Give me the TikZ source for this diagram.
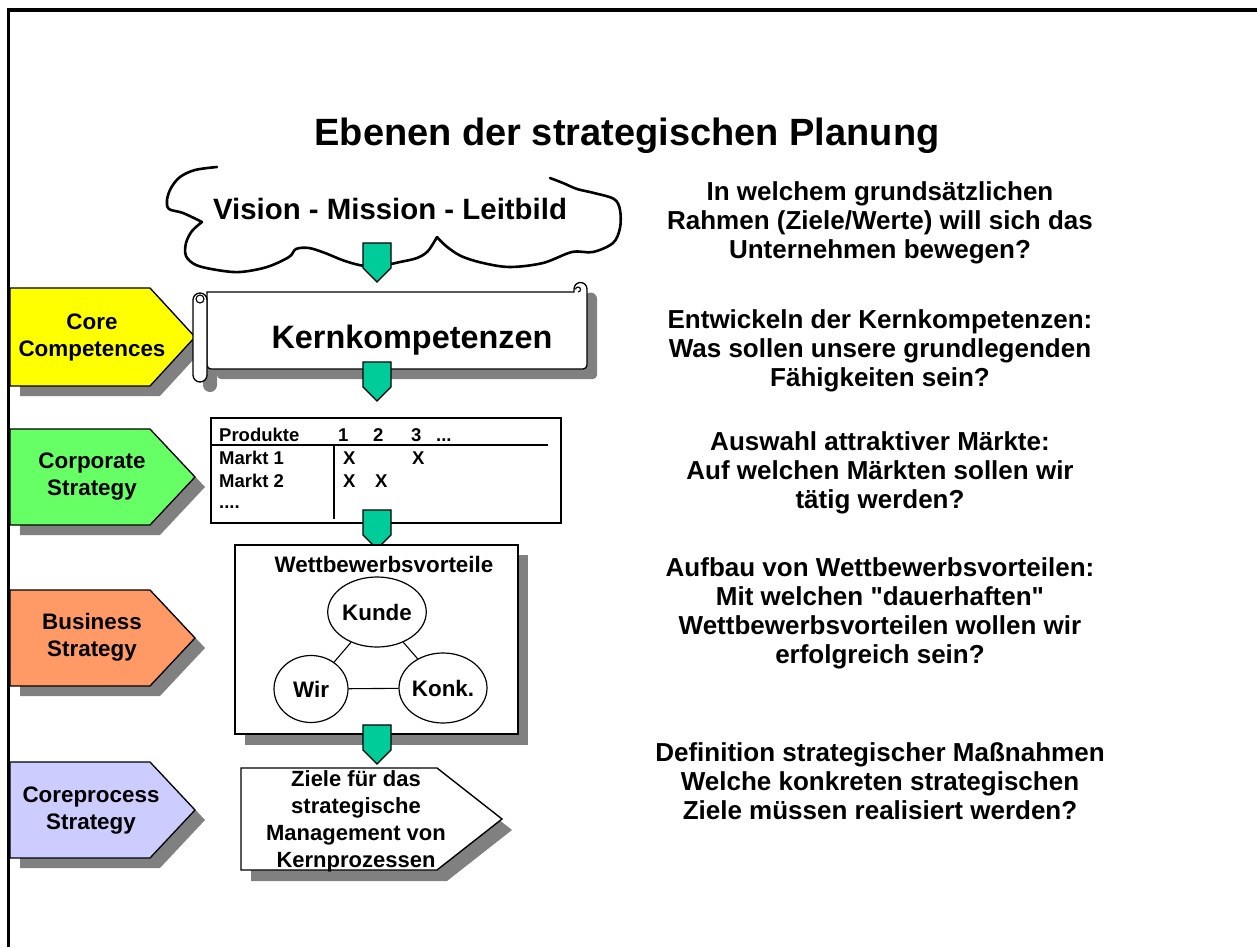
\documentclass[tikz,border=0pt]{standalone}
\usepackage{fontspec}
\setmainfont{Liberation Sans}
\usetikzlibrary{shapes.geometric}
\definecolor{cyel}{RGB}{255,255,0}
\definecolor{cgrn}{RGB}{102,255,102}
\definecolor{corg}{RGB}{255,153,102}
\definecolor{clav}{RGB}{204,204,255}
\definecolor{arrowteal}{RGB}{0,204,153}
\definecolor{shadowgray}{RGB}{128,128,128}

\tikzset{
  chevtext/.style={align=center, inner sep=0pt, font=\fontsize{22.4}{27}\selectfont\bfseries},
  sidetext/.style={align=center, inner sep=0pt, font=\fontsize{26}{29}\selectfont\bfseries},
  tabtext/.style={anchor=base west, inner sep=0pt, font=\fontsize{18.5}{23}\selectfont\bfseries},
  party/.style={ellipse, draw, line width=1.2pt, fill=white, inner sep=0pt,
     minimum width=74pt, minimum height=70pt, font=\fontsize{22.4}{27}\selectfont\bfseries},
  outline/.style={draw=black, line width=1.3pt},
  greenarrow/.pic={
    \filldraw[fill=arrowteal, draw=black, line width=1.2pt]
      (-14,0) -- (14,0) -- (14,25) -- (0,39) -- (-14,25) -- cycle;
  }
}

\begin{document}
\begin{tikzpicture}[x=1pt, y=-1pt, line join=miter]
\useasboundingbox (0,0) rectangle (1257,947);
\fill[white] (0,0) rectangle (1257,947);

% page frame (top and left edge only)
\draw[line width=3.5pt] (8.5,947) -- (8.5,10.2) -- (1257,10.2);

% heading
\node[anchor=base, inner sep=0pt, font=\fontsize{38}{44}\selectfont\bfseries] (title) at (627,145)
  {Ebenen der strategischen Planung};

% level chevrons on the left, each with its offset shadow
\foreach \yt/\ym/\yb/\col in {288/337/386/cyel, 429/477/525/cgrn, 590/638/686/corg, 762/810/858/clav} {
  \fill[shadowgray] (20,\yt+10) -- (160,\yt+10) -- (205,\ym+10) -- (160,\yb+10) -- (20,\yb+10) -- cycle;
  \filldraw[fill=\col, outline] (10,\yt) -- (150,\yt) -- (195,\ym) -- (150,\yb) -- (10,\yb) -- cycle;
}
\node[chevtext] (core) at (92,338) {Core\\Competences};
\node[chevtext] (corp) at (92,477) {Corporate\\Strategy};
\node[chevtext] (bus)  at (92,637) {Business\\Strategy};
\node[chevtext] (proc) at (91,811) {Coreprocess\\Strategy};

% vision cloud (open at the top)
\draw[line width=2.6pt, line cap=round, line join=round]
  plot[smooth, tension=0.55] coordinates {(217,167) (195,170) (180,177) (171,188) (167,200) (169,209) (183,213) (202,222)}
  plot[smooth, tension=0.55] coordinates {(202,222) (192,231) (186,243) (186,256) (196,265) (217,270) (240,272) (267,267) (289,257) (296,249) (309,248) (325,253) (345,261) (365,266) (385,265) (400,262) (417,258) (428,251) (437,237)}
  plot[smooth, tension=0.55] coordinates {(437,237) (446,246) (461,256) (483,263) (510,267) (543,263) (572,252) (593,252) (613,243) (620,228) (620,210) (614,199) (594,193) (577,189) (563,183) (550,178)};
\node[anchor=base, inner sep=0pt, font=\fontsize{29.4}{34}\selectfont\bfseries] (vision) at (390,219)
  {Vision - Mission - Leitbild};
\pic at (377,243) {greenarrow};

% scroll with core competences: shadow first, then the scroll itself
\begin{scope}[shift={(10,10)}]
  \fill[shadowgray] (207,292) -- (574,292) -- (574,289) arc[start angle=180, end angle=360, radius=6.5]
    [rounded corners=4pt] -- (587,369) -- (207,369) [sharp corners] -- cycle;
  \fill[shadowgray, rounded corners=7pt] (193,293) rectangle (207,382);
\end{scope}
\filldraw[fill=white, line width=1.3pt] (207,292) -- (574,292) -- (574,289) arc[start angle=180, end angle=360, radius=6.5]
    [rounded corners=4pt] -- (587,369) -- (207,369) [sharp corners] -- cycle;
\draw[line width=1.1pt] (578,292) arc[start angle=90, end angle=-180, radius=2.5];
\filldraw[fill=white, line width=1.3pt, rounded corners=7pt] (193,293) rectangle (207,382);
\draw[line width=1.1pt] (200,299) circle[radius=4];
\node[anchor=base, inner sep=0pt, font=\fontsize{32.4}{38}\selectfont\bfseries] (kern) at (412,348)
  {Kernkompetenzen};
\pic at (377,362) {greenarrow};

% product / market matrix
\draw[line width=1.4pt, fill=white] (211,418) rectangle (561,523);
\draw[line width=1.1pt] (211,445) -- (548,445);
\draw[line width=1.1pt] (334,445) -- (334,519);
\node[tabtext] (prod) at (219,441) {Produkte};
\node[tabtext] (p1) at (338,441) {1};
\node[tabtext] (p2) at (373,441) {2};
\node[tabtext] (p3) at (411,441) {3};
\node[tabtext] (pm) at (436,441) {...};
\node[tabtext] (m1) at (219,464) {Markt 1};
\node[tabtext] (m2) at (219,487) {Markt 2};
\node[tabtext] (mm) at (219,508) {....};
\node[tabtext] (x11) at (343,464) {X};
\node[tabtext] (x13) at (412,464) {X};
\node[tabtext] (x21) at (343,487) {X};
\node[tabtext] (x22) at (375,487) {X};
\pic at (377,510) {greenarrow};

% competitive advantage triangle
\fill[shadowgray] (245,555) rectangle (528,745);
\draw[line width=1.4pt, fill=white] (235,545) rectangle (518,734);
\node[anchor=base, inner sep=0pt, font=\fontsize{22.4}{27}\selectfont\bfseries] (wett) at (384,572)
  {Wettbewerbsvorteile};
\node[party] (kunde) at (377,612) {Kunde};
\node[party, minimum height=67pt] (wir) at (311,689) {Wir};
\node[party] (konk) at (443,688) {Konk.};
\draw[line width=1.1pt] (wir) -- (kunde);
\draw[line width=1.1pt] (kunde) -- (konk);
\draw[line width=1.1pt] (wir) -- (konk);
\pic at (377,725) {greenarrow};

% core process goals
\fill[shadowgray] (251,779) -- (447,779) -- (512,830) -- (447,881) -- (251,881) -- cycle;
\filldraw[fill=white, line width=1.4pt] (241,768) -- (437,768) -- (502,819) -- (437,870) -- (241,870) -- cycle;
\node[chevtext, font=\fontsize{22}{27}\selectfont\bfseries] (ziele) at (356,821)
  {Ziele für das\\strategische\\Management von\\Kernprozessen};

% guiding questions on the right
\node[sidetext] (q1) at (880,223) {In welchem grundsätzlichen\\Rahmen (Ziele/Werte) will sich das\\Unternehmen bewegen?};
\node[sidetext] (q2) at (880,351) {Entwickeln der Kernkompetenzen:\\Was sollen unsere grundlegenden\\Fähigkeiten sein?};
\node[sidetext] (q3) at (880,473) {Auswahl attraktiver Märkte:\\Auf welchen Märkten sollen wir\\tätig werden?};
\node[sidetext] (q4) at (880,613) {Aufbau von Wettbewerbsvorteilen:\\Mit welchen \textquotedbl dauerhaften\textquotedbl\\Wettbewerbsvorteilen wollen wir\\erfolgreich sein?};
\node[sidetext] (q5) at (880,781) {Definition strategischer Maßnahmen\\Welche konkreten strategischen\\Ziele müssen realisiert werden?};
\end{tikzpicture}
\end{document}
